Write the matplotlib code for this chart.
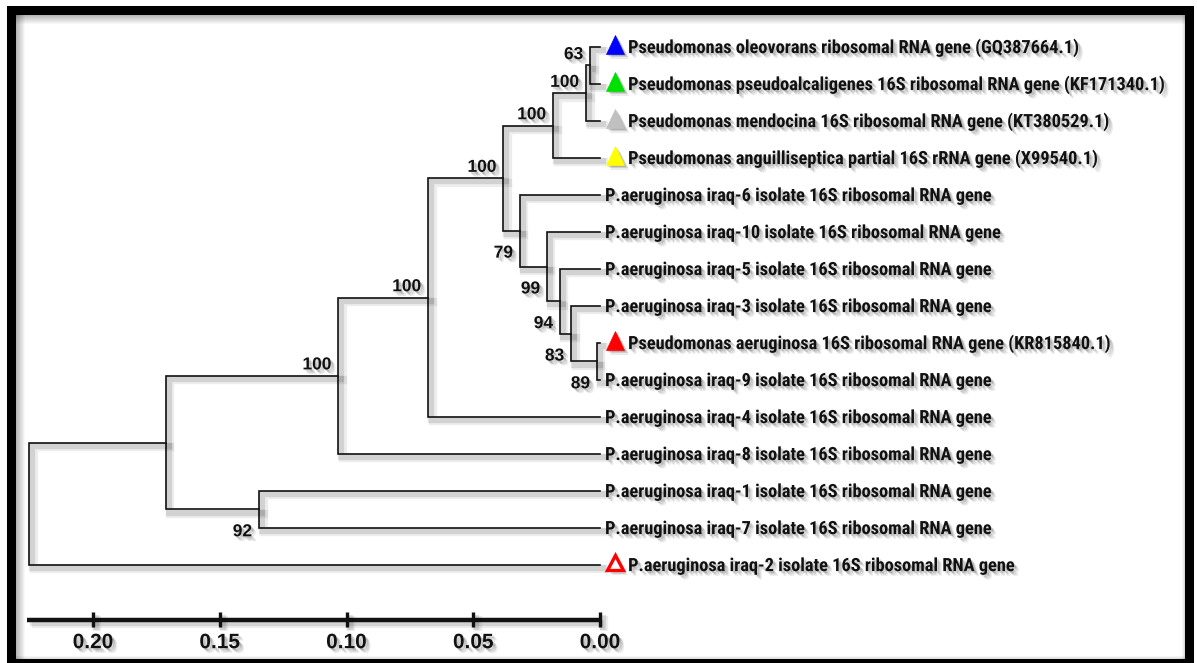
import matplotlib
matplotlib.use("Agg")
import matplotlib.pyplot as plt
import matplotlib.patheffects as pe
from matplotlib import font_manager
from matplotlib.patches import Rectangle
from matplotlib.lines import Line2D
from matplotlib.transforms import ScaledTranslation

# ---------------------------------------------------------------- data
# leaves, top to bottom
leaf_names = [
    "Pseudomonas oleovorans ribosomal RNA gene (GQ387664.1)",
    "Pseudomonas pseudoalcaligenes 16S ribosomal RNA gene (KF171340.1)",
    "Pseudomonas mendocina 16S ribosomal RNA gene (KT380529.1)",
    "Pseudomonas anguilliseptica partial 16S rRNA gene (X99540.1)",
    "P.aeruginosa iraq-6 isolate 16S ribosomal RNA gene",
    "P.aeruginosa iraq-10 isolate 16S ribosomal RNA gene",
    "P.aeruginosa iraq-5 isolate 16S ribosomal RNA gene",
    "P.aeruginosa iraq-3 isolate 16S ribosomal RNA gene",
    "Pseudomonas aeruginosa 16S ribosomal RNA gene (KR815840.1)",
    "P.aeruginosa iraq-9 isolate 16S ribosomal RNA gene",
    "P.aeruginosa iraq-4 isolate 16S ribosomal RNA gene",
    "P.aeruginosa iraq-8 isolate 16S ribosomal RNA gene",
    "P.aeruginosa iraq-1 isolate 16S ribosomal RNA gene",
    "P.aeruginosa iraq-7 isolate 16S ribosomal RNA gene",
    "P.aeruginosa iraq-2 isolate 16S ribosomal RNA gene",
]
# triangle marker colour per leaf (None = no marker)
leaf_marker_color = ["#0000ff", "#00e000", "#c0c0c0", "#ffff00", None, None, None,
                     None, "#ff0000", None, None, None, None, None, "#ff0000"]
leaf_marker_filled = [True, True, True, True, False, False, False,
                      False, True, False, False, False, False, False, False]

# internal nodes: children are leaf indices (int) or node names (str)
node_names = ["n1", "n2", "n3", "n4", "n5", "n6", "n7",
              "n8", "n9", "n10", "n11", "n12", "n13", "n14"]
node_children = [(0, 1), ("n1", 2), ("n2", 3), (8, 9), (7, "n4"), (6, "n5"), (5, "n6"),
                 (4, "n7"), ("n3", "n8"), ("n9", 10), ("n10", 11), (12, 13),
                 ("n11", "n12"), ("n13", 14)]
node_height = [0.0039, 0.0055, 0.0185, 0.0012, 0.0114, 0.0158, 0.0209,
               0.0316, 0.0381, 0.0678, 0.1032, 0.1345, 0.1712, 0.2252]
node_support = ["63", "100", "100", "89", "83", "94", "99",
                "79", "100", "100", "100", "92", "", ""]
support_above = [True, True, True, False, False, False, False,
                 False, True, True, True, False, False, False]

scale_ticks = [0.20, 0.15, 0.10, 0.05, 0.00]
scale_labels = ["0.20", "0.15", "0.10", "0.05", "0.00"]

# ---------------------------------------------------------------- fonts
# leaf labels are in a narrow bold face; look for one, else plain bold smaller
leaf_font, leaf_stretch, leaf_size = "Liberation Sans", "normal", 11.2
fonts = font_manager.fontManager.ttflist
names = {f.name for f in fonts}
for nm in ["Liberation Sans Narrow", "Arial Narrow", "Roboto Condensed",
           "Open Sans Condensed", "DejaVu Sans Condensed"]:
    if nm in names:
        leaf_font, leaf_stretch, leaf_size = nm, "normal", 13.2
        break
else:
    cond = [f for f in fonts
            if str(f.stretch) in ("condensed", "semi-condensed", "75", "87.5")
            and "CJK" not in f.name and "Mono" not in f.name]
    if cond:
        cond.sort(key=lambda f: ("Sans" not in f.name, f.name))
        leaf_font, leaf_stretch = cond[0].name, cond[0].stretch
        leaf_size = 12.65 if str(leaf_stretch) in ("condensed", "75") else 11.8
num_font = "Liberation Sans"

# ---------------------------------------------------------------- figure
W, H = 1197, 663
fig = plt.figure(figsize=(W / 100, H / 100), dpi=100)
fig.patch.set_facecolor("white")
ax = fig.add_axes([0, 0, 1, 1])
ax.set_axis_off()
ax.set_xlim(0.2367, -0.2355)
ax.set_ylim(16.649, -1.270)

line_fx = [pe.SimpleLineShadow(offset=(2.2, -2.2), shadow_color="k", alpha=0.11, linewidth=4.5),
           pe.SimpleLineShadow(offset=(3.2, -3.2), shadow_color="k", alpha=0.07, linewidth=6),
           pe.Normal()]
text_fx = [pe.SimplePatchShadow(offset=(1.4, -1.4), shadow_rgbFace="k", alpha=0.14),
           pe.SimplePatchShadow(offset=(2.4, -2.4), shadow_rgbFace="k", alpha=0.12),
           pe.SimplePatchShadow(offset=(3.4, -3.4), shadow_rgbFace="k", alpha=0.08),
           pe.Normal()]

# positions of leaves and nodes
pos_y = {i: float(i) for i in range(len(leaf_names))}
pos_h = {i: 0.0 for i in range(len(leaf_names))}
for name, (a, b), h in zip(node_names, node_children, node_height):
    pos_y[name] = (pos_y[a] + pos_y[b]) / 2
    pos_h[name] = h
    ax.plot([pos_h[a], h, h, pos_h[b]], [pos_y[a], pos_y[a], pos_y[b], pos_y[b]],
            color="#111111", lw=1.2, solid_joinstyle="miter", path_effects=line_fx)

# bootstrap values
for name, sup, above in zip(node_names, node_support, support_above):
    if not sup:
        continue
    dy = 4.6 if above else -19.3
    ax.annotate(sup, (pos_h[name], pos_y[name]), xytext=(-5, dy), textcoords="offset points",
                ha="right", va="baseline", fontsize=12.5, fontweight="bold",
                family=num_font, color="#111111", path_effects=text_fx)

# leaf markers and labels
tri_shift = ScaledTranslation(15 / 100, 2.5 / 100, fig.dpi_scale_trans)
for i, (lab, col, filled) in enumerate(zip(leaf_names, leaf_marker_color, leaf_marker_filled)):
    dx = 3.6
    if col is not None:
        ax.plot([0], [i], marker="^", ls="none",
                ms=13.5 if filled else 11.5,
                mfc=col if filled else "white", mec=col,
                mew=0.5 if filled else 2.4,
                transform=ax.transData + tri_shift, path_effects=text_fx)
        dx = 20.2
    ax.annotate(lab, (0, i), xytext=(dx, -4.4), textcoords="offset points",
                ha="left", va="baseline", fontsize=leaf_size, fontweight="bold",
                fontstretch=leaf_stretch, family=leaf_font, color="#111111",
                path_effects=text_fx)

# scale bar
sy = 15.486
ax.plot([0, pos_h["n14"] + 0.0008], [sy, sy], color="#111111", lw=3.2,
        solid_capstyle="butt", path_effects=line_fx)
for t, lab in zip(scale_ticks, scale_labels):
    ax.plot([t, t], [sy - 8 / 37, sy + 7 / 37], color="#111111", lw=2.4,
            solid_capstyle="butt", path_effects=line_fx)
    ax.annotate(lab, (t, sy), xytext=(0, -20.3), textcoords="offset points",
                ha="center", va="baseline", fontsize=15, fontweight="bold",
                family=num_font, color="#111111", path_effects=text_fx)

# frame with inner shadow
for k in range(9):
    a = 0.28 * (1 - k / 9)
    fig.add_artist(Line2D([15 / W, 1184 / W], [1 - (14.5 + k) / H] * 2, color="k", alpha=a,
                          lw=0.72, transform=fig.transFigure))
    fig.add_artist(Line2D([(15.5 + k) / W] * 2, [1 - 14 / H, 1 - 658 / H], color="k", alpha=a,
                          lw=0.72, transform=fig.transFigure))
for k in range(3):
    a = 0.12 * (1 - k / 3)
    fig.add_artist(Line2D([(1183.5 - k) / W] * 2, [1 - 14 / H, 1 - 658 / H], color="k", alpha=a,
                          lw=0.72, transform=fig.transFigure))
    fig.add_artist(Line2D([15 / W, 1184 / W], [1 - (657.5 - k) / H] * 2, color="k", alpha=a,
                          lw=0.72, transform=fig.transFigure))
fig.add_artist(Rectangle((10.5 / W, 1 - 662.5 / H), (1188.5 - 10.5) / W, (662.5 - 9.5) / H,
                         fill=False, ec="black", lw=6.5, joinstyle="miter",
                         transform=fig.transFigure))

fig.savefig("out.png", dpi=100, facecolor="white")
